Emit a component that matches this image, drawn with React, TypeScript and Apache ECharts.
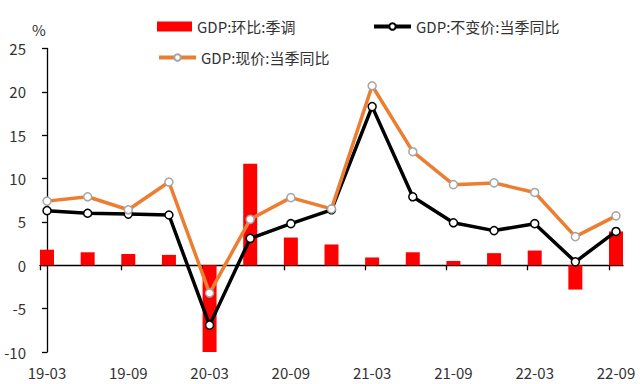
import React, { useEffect, useRef } from "react";
import * as echarts from "echarts";

const categories = ["19-03", "19-06", "19-09", "19-12", "20-03", "20-06", "20-09", "20-12", "21-03", "21-06", "21-09", "21-12", "22-03", "22-06", "22-09"];
const qoqSA = [1.8, 1.5, 1.3, 1.2, -10.0, 11.7, 3.2, 2.4, 0.9, 1.5, 0.5, 1.4, 1.7, -2.8, 3.9];
const realYoY = [6.3, 6.0, 5.9, 5.8, -6.9, 3.1, 4.8, 6.4, 18.3, 7.9, 4.9, 4.0, 4.8, 0.4, 3.9];
const nominalYoY = [7.4, 7.9, 6.4, 9.6, -3.2, 5.3, 7.8, 6.5, 20.7, 13.1, 9.3, 9.5, 8.4, 3.3, 5.7];
const yTicks = { min: -10, max: 25, step: 5 };
const unitLabel = "%";

const names = ["GDP:环比:季调", "GDP:不变价:当季同比", "GDP:现价:当季同比"];

export default function App() {
  const ref = useRef<HTMLDivElement>(null);
  useEffect(() => {
    if (!ref.current) return;
    const chart = echarts.init(ref.current, null, { renderer: "svg" });
    const font = "'Noto Sans CJK SC', 'Noto Sans', sans-serif";
    const textColor = "#333";
    const xMin = -0.1726;
    const xMax = categories.length - 1 + 0.1726;
    const labelVals = categories.map((_, i) => i).filter((i) => i % 2 === 0);
    const tickVals = labelVals.map((i) => i + xMin);
    const pts = (arr: number[]) => arr.map((v, i) => [i, v]);
    const legendText = { fontSize: 15, color: textColor, fontFamily: font };
    chart.setOption({
      animation: false,
      textStyle: { fontFamily: font },
      grid: { left: 40, right: 17, top: 48.5, bottom: 32 },
      graphic: [
        {
          type: "text", x: 39, y: 29,
          style: { text: unitLabel, align: "center", verticalAlign: "middle", fontSize: 15, fill: textColor, fontFamily: font },
        },
      ],
      legend: [
        {
          left: 152, top: 14, data: [names[0]], icon: "rect", itemWidth: 35, itemHeight: 10,
          textStyle: legendText,
        },
        {
          left: 367, top: 14, data: [{ name: names[1], lineStyle: { width: 4, color: "#000" } }], itemWidth: 37, itemHeight: 8,
          lineStyle: { width: 4 },
          textStyle: legendText,
        },
        {
          left: 152, top: 45, data: [{ name: names[2], lineStyle: { width: 4, color: "#ED7D31" } }], itemWidth: 37, itemHeight: 8,
          lineStyle: { width: 4 },
          textStyle: legendText,
        },
      ],
      xAxis: [
        {
          type: "value", min: xMin, max: xMax, position: "bottom",
          axisLine: { show: false, onZero: false },
          axisTick: { show: false },
          splitLine: { show: false },
          axisLabel: {
            customValues: labelVals,
            formatter: (v: number) => categories[Math.round(v)] ?? "",
            fontSize: 15, color: textColor, margin: 13, fontFamily: font,
          },
        },
        {
          type: "value", min: xMin, max: xMax, position: "bottom",
          axisLine: { show: true, onZero: true, lineStyle: { color: "#000", width: 1.3 } },
          axisTick: { show: true, customValues: tickVals, length: 5, lineStyle: { color: "#000", width: 1.3 } },
          axisLabel: { show: false },
          splitLine: { show: false },
        },
      ],
      yAxis: {
        type: "value", min: yTicks.min, max: yTicks.max, interval: yTicks.step,
        axisLine: { show: true, lineStyle: { color: "#000", width: 1.3 } },
        axisTick: { show: true, length: 5, lineStyle: { color: "#000", width: 1.3 } },
        splitLine: { show: false },
        axisLabel: { fontSize: 15, color: textColor, margin: 14, fontFamily: font },
      },
      series: [
        {
          name: names[0], type: "bar", xAxisIndex: 0, data: pts(qoqSA), barWidth: 14,
          itemStyle: { color: "#FF0000" },
        },
        {
          name: names[1], type: "line", xAxisIndex: 0, data: pts(realYoY),
          symbol: "circle", symbolSize: 8, showSymbol: true,
          lineStyle: { color: "#000", width: 3.5 },
          itemStyle: { color: "#fff", borderColor: "#000", borderWidth: 1.5 },
        },
        {
          name: names[2], type: "line", xAxisIndex: 0, data: pts(nominalYoY),
          symbol: "circle", symbolSize: 8, showSymbol: true,
          lineStyle: { color: "#ED7D31", width: 3.5 },
          itemStyle: { color: "#fff", borderColor: "#A6A6A6", borderWidth: 1.5 },
        },
      ],
    });
    return () => chart.dispose();
  }, []);
  return <div ref={ref} style={{ width: 640, height: 384, position: "absolute", left: 0, top: 0 }} />;
}
